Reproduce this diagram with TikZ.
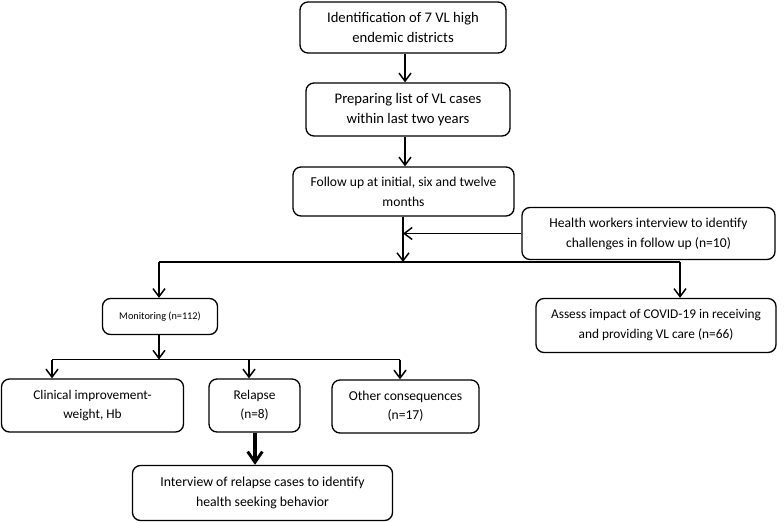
\documentclass[tikz,border=0pt]{standalone}
\usepackage{fontspec}
\setmainfont{Carlito}
\usetikzlibrary{arrows.meta}

\begin{document}
\begin{tikzpicture}[x=0.75pt,y=-0.75pt,
  every node/.style={shape=rectangle, draw=black, rounded corners=6pt, line width=1pt, align=center, inner sep=0pt},
  arr/.style={-{Straight Barb[length=6pt,width=9pt,line width=1.1pt]}, line width=1.1pt}]
\useasboundingbox (0,0) rectangle (784,522);

\node [minimum width=154.5pt, minimum height=38.25pt, font=\fontsize{11}{15}\selectfont] (ident) at (403,27.5) {Identification of 7 VL high\\endemic districts};
\node [minimum width=153pt, minimum height=39.75pt, font=\fontsize{11}{15}\selectfont] (prep) at (408,109.5) {Preparing list of VL cases\\within last two years};
\node [minimum width=165.75pt, minimum height=36.75pt, font=\fontsize{10.2}{15}\selectfont] (follow) at (403.5,191.5) {Follow up at initial, six and twelve\\months};
\node [minimum width=189.75pt, minimum height=39pt, font=\fontsize{10.2}{15}\selectfont] (health) at (648.5,233.5) {Health workers interview to identify\\challenges in follow up (n=10)};
\node [minimum width=86.25pt, minimum height=27pt, font=\fontsize{7.7}{10}\selectfont] (monitor) at (160,316.5) {Monitoring (n=112)};
\node [minimum width=180pt, minimum height=40.5pt, font=\fontsize{10}{15}\selectfont] (assess) at (656,325.5) {Assess impact of COVID-19 in receiving\\and providing VL care (n=66)};
\node [minimum width=136.5pt, minimum height=39.75pt, font=\fontsize{10}{14}\selectfont] (clin) at (92.5,405.5) {Clinical improvement-\\weight, Hb};
\node [minimum width=68.25pt, minimum height=39.75pt, font=\fontsize{10}{14}\selectfont] (relapse) at (254.5,405.5) {Relapse\\(n=8)};
\node [minimum width=110.25pt, minimum height=39.75pt, font=\fontsize{10.2}{14}\selectfont] (other) at (405.5,406.5) {Other consequences\\(n=17)};
\node [minimum width=195pt, minimum height=41.25pt, font=\fontsize{10.3}{15}\selectfont] (interview) at (262.5,493) {Interview of relapse cases to identify\\health seeking behavior};

\coordinate (split1) at (403,262);
\coordinate (left1) at (159,262);
\coordinate (right1) at (680,262);
\coordinate (split2) at (159,359.5);
\coordinate (left2) at (52,359.5);
\coordinate (mid2) at (249,359.5);
\coordinate (right2) at (400,359.5);
\coordinate (topline) at (405,0);

\path [arr] (ident.south -| topline) edge (prep.north -| topline);
\path [arr] (prep.south -| topline) edge (follow.north -| topline);
\path [arr] (follow.south -| split1) edge (split1);
\path [arr] (health.west) edge (health.west -| split1);
\path [-, line width=1.1pt] (left1) edge (right1);
\path [arr] (left1) edge (left1 |- monitor.north);
\path [arr] (right1) edge (right1 |- assess.north);
\path [arr] (monitor.south -| split2) edge (split2);
\path [-, line width=1.1pt] (left2) edge (right2);
\path [arr] (left2) edge (left2 |- clin.north);
\path [arr] (mid2) edge (mid2 |- relapse.north);
\path [arr] (right2) edge (right2 |- other.north);
\path [-{Straight Barb[length=8pt,width=11pt,line width=2.2pt]}, line width=2.4pt] (relapse.south -| 255,0) edge (interview.north -| 255,0);
\end{tikzpicture}
\end{document}
